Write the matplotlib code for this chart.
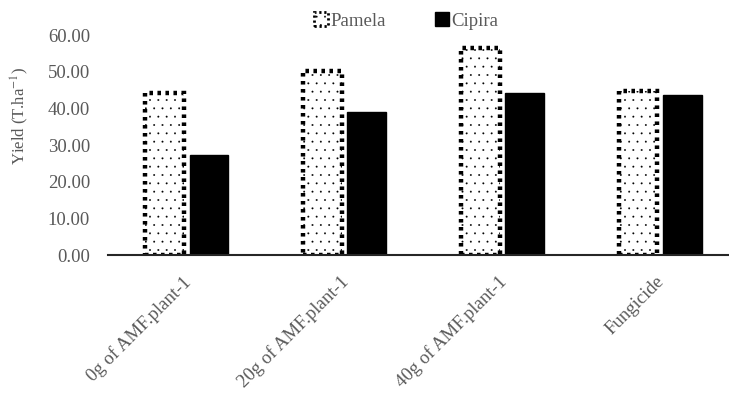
import numpy as np
import matplotlib.pyplot as plt
from matplotlib.patches import Patch

plt.rcParams['font.family'] = ['Liberation Serif', 'DejaVu Serif']
plt.rcParams['mathtext.fontset'] = 'stix'
plt.rcParams['hatch.linewidth'] = 0.15

categories = ["0g of AMF.plant-1", "20g of AMF.plant-1", "40g of AMF.plant-1", "Fungicide"]
pamela = [44.2, 50.2, 56.5, 44.7]
cipira = [27.3, 39.0, 44.2, 43.6]
yticks = [0, 10, 20, 30, 40, 50, 60]

grey = "#595959"

fig = plt.figure(figsize=(7.29, 3.94), dpi=100)
ax = fig.add_axes([108/729, 1 - 255/394, (729-108)/729, 220/394])

x = np.arange(len(categories))
w = 0.245
ax.bar(x - 0.14, pamela, w, facecolor="white", edgecolor="black", hatch="..",
       linewidth=3.2, linestyle=(0, (0.8, 1.0)))
ax.bar(x + 0.14, cipira, w, color="black", edgecolor="black")

ax.set_xlim(-0.5, 3.5 - 10/157.6)
ax.set_ylim(0, 60)
ax.set_yticks(yticks)
ax.set_yticklabels([f"{v:.2f}" for v in yticks], color=grey, fontsize=13.5)
ax.set_xticks(x - 0.03)
ax.set_xticklabels(categories, rotation=45, ha="right", rotation_mode="anchor",
                   color=grey, fontsize=13.5)
ax.tick_params(axis="both", length=0)
ax.tick_params(axis="y", pad=13)
ax.tick_params(axis="x", pad=13)

for s in ["top", "right", "left"]:
    ax.spines[s].set_visible(False)
ax.spines["bottom"].set_linewidth(1.5)
ax.spines["bottom"].set_color("#262626")

fig.text(20/729, 1 - 116/394, "Yield (T.ha$^{-1}$)", rotation=90, ha="center", va="center",
         color=grey, fontsize=12)

handles = [Patch(facecolor="white", edgecolor="black", hatch="..", linewidth=2,
                 linestyle=(0, (0.8, 1.0))),
           Patch(facecolor="black", edgecolor="black")]
leg = fig.legend(handles, ["Pamela", "Cipira"], loc="center", bbox_to_anchor=(406/729, 1 - 21/394),
                 ncol=2, frameon=False, fontsize=13.5, handlelength=0.75, handleheight=0.75,
                 handletextpad=0.15, columnspacing=2.6, labelcolor=grey)

fig.savefig("out.png", dpi=100)
